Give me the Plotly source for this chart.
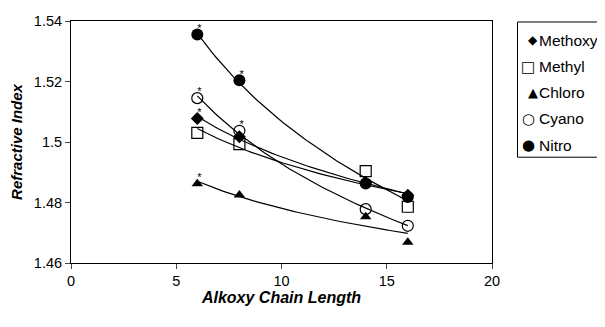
import numpy as np
import plotly.graph_objects as go

chain_length = [6, 8, 14, 16]
methoxy = [1.5078, 1.5017, 1.4866, 1.4824]
methyl = [1.5030, 1.4993, 1.4904, 1.4786]
chloro = [1.4862, 1.4825, 1.4753, 1.4669]
cyano = [1.5145, 1.5037, 1.4778, 1.4723]
nitro = [1.5355, 1.5204, 1.4863, 1.4818]

# significance stars shown above points
methoxy_star = [True, False, False, False]
methyl_star = [False, True, False, False]
chloro_star = [True, False, False, False]
cyano_star = [True, True, False, False]
nitro_star = [True, True, False, False]

y_ticks = [1.46, 1.48, 1.50, 1.52, 1.54]
y_tick_labels = ["1.46", "1.48", "1.5", "1.52", "1.54"]
x_ticks = [0, 5, 10, 15, 20]

# name, values, stars, marker style, legend glyph, glyph size, glyph centre (page px)
series = [
    ("Methoxy", methoxy, methoxy_star, dict(symbol="diamond", size=10, color="black"), "\u25C6", 12, 533),
    ("Methyl", methyl, methyl_star, dict(symbol="square-open", size=11, color="black", line=dict(width=1.2)), "\u25A1", 15, 528),
    ("Chloro", chloro, chloro_star, dict(symbol="triangle-up", size=10, color="black"), "\u25B2", 13, 533),
    ("Cyano", cyano, cyano_star, dict(symbol="circle-open", size=11, color="black", line=dict(width=1.2)), "\u25CB", 15, 528),
    ("Nitro", nitro, nitro_star, dict(symbol="circle", size=12, color="black"), "\u25CF", 15, 528),
]

FONT = "Liberation Sans, Arial, sans-serif"
fig = go.Figure()
x = np.array(chain_length, dtype=float)
xf = np.linspace(x.min(), x.max(), 60)
for name, ys, stars, mk, glyph, gs, gx in series:
    yv = np.array(ys)
    b, loga = np.polyfit(np.log(x), np.log(yv), 1)
    yf = np.exp(loga) * xf ** b
    fig.add_trace(go.Scatter(x=xf, y=yf, mode="lines", line=dict(color="black", width=1.2),
                             showlegend=False, hoverinfo="skip"))
for name, ys, stars, mk, glyph, gs, gx in series:
    fig.add_trace(go.Scatter(x=chain_length, y=ys, mode="markers", name=name, marker=mk,
                             cliponaxis=False, showlegend=False))
    sx = [xi for xi, s in zip(chain_length, stars) if s]
    sy = [yi for yi, s in zip(ys, stars) if s]
    fig.add_trace(go.Scatter(x=sx, y=sy, mode="text", text=["*"] * len(sx),
                             textposition="top right", showlegend=False,
                             textfont=dict(family=FONT, size=11, color="black"),
                             cliponaxis=False))

# page body has an 8px margin; the plot area sits at page x 71..492, y 20.5..263
OFF = 8
FIG_W, FIG_H = 605 - OFF, 327 - OFF
L, R, T, B = 71 - OFF, 605 - 492, 20.5 - OFF, 327 - 263
W, H = 492 - 71, 263 - 20.5
def px(xp):
    return (xp - 71) / W
def py(yp):
    return (263 - yp) / H

# custom legend
fig.add_shape(type="rect", xref="paper", yref="paper", x0=px(517.5), x1=px(604), y0=py(157), y1=py(21.5),
              line=dict(color="black", width=1), fillcolor="white", layer="above")
for i, (name, ys, stars, mk, glyph, gs, gx) in enumerate(series):
    yc = 40 + i * 26.2
    fig.add_annotation(xref="paper", yref="paper", x=px(gx), y=py(yc), text=glyph, showarrow=False,
                       xanchor="center", yanchor="middle",
                       font=dict(family="DejaVu Sans", size=gs, color="black"))
    fig.add_annotation(xref="paper", yref="paper", x=px(537), y=py(yc), text=name, showarrow=False,
                       xanchor="left", yanchor="middle",
                       font=dict(family=FONT, size=15.5, color="black"))

fig.update_layout(
    width=FIG_W, height=FIG_H,
    margin=dict(l=L, r=R, t=T, b=B, autoexpand=False),
    paper_bgcolor="white", plot_bgcolor="white",
    font=dict(family=FONT, size=14, color="black"),
    showlegend=False,
)
fig.update_xaxes(range=[0, 20], tickvals=x_ticks, showline=True, linecolor="black", linewidth=1,
                 mirror=True, ticks="outside", ticklen=5, showgrid=False, zeroline=False,
                 automargin=False, tickfont=dict(size=14.5),
                 title=dict(text="<b><i>Alkoxy Chain Length</i></b>", font=dict(size=16), standoff=3))
fig.update_yaxes(range=[1.46, 1.54], tickvals=y_ticks, ticktext=y_tick_labels, showline=True,
                 linecolor="black", linewidth=1, mirror=True, ticks="outside", ticklen=5,
                 showgrid=False, zeroline=False, automargin=False, tickfont=dict(size=14.5),
                 title=dict(text="<b><i>Refractive Index</i></b>", font=dict(size=15), standoff=8))

fig.write_html("out.html")
